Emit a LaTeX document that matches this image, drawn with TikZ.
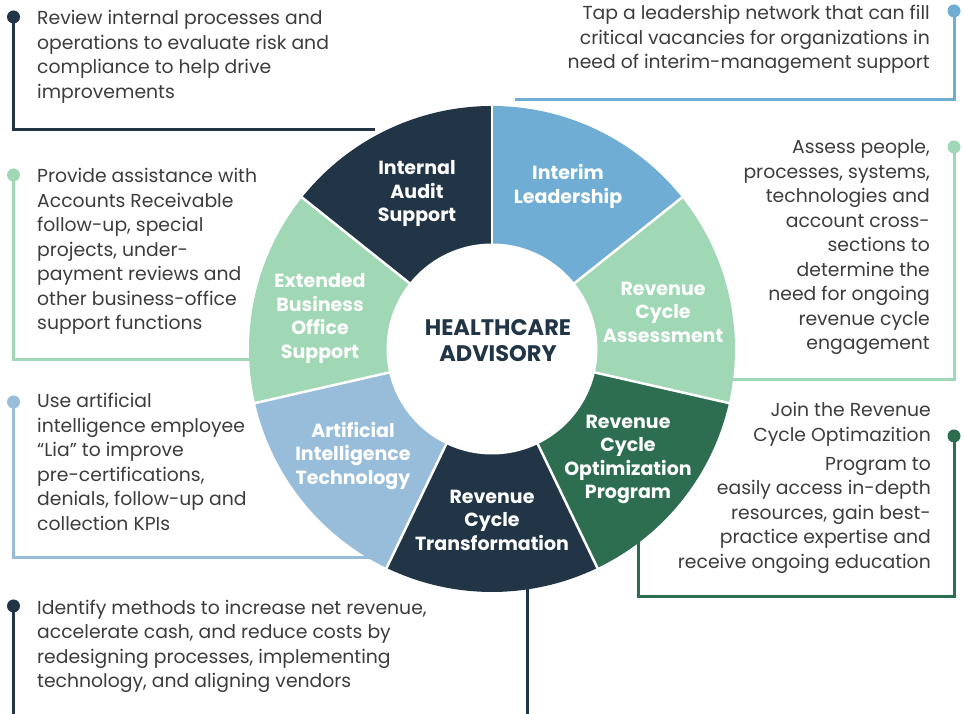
\documentclass[tikz,border=0pt]{standalone}
\usepackage{fontspec}
\setmainfont{Poppins}
\definecolor{navy}{HTML}{213547}
\definecolor{skyblue}{HTML}{6FADD4}
\definecolor{mint}{HTML}{A0D8B5}
\definecolor{forest}{HTML}{2C6E4F}
\definecolor{paleblue}{HTML}{97BDDB}
\definecolor{bodygray}{HTML}{3C3C3C}
\tikzset{
  seglabel/.style={text=white, font=\bfseries\fontsize{19}{23.5}\selectfont, align=center},
  desc/.style={text=bodygray, font=\fontsize{18.8}{24.5}\selectfont, inner sep=0pt},
  leader/.style={line width=3pt},
}
\begin{document}
\begin{tikzpicture}[x=1pt,y=1pt]
    \useasboundingbox (0,0) rectangle (964,714);
    \coordinate (C) at (492,365);

    % leader lines
    \coordinate (auditDot) at (13.5,697);
    \coordinate (auditEnd) at (375,584);
    \coordinate (interimDot) at (954,703);
    \coordinate (interimEnd) at (515,614);
    \coordinate (assessDot) at (954,567);
    \coordinate (assessEnd) at (725,334);
    \coordinate (optDot) at (954,278);
    \coordinate (optLow) at (954,117);
    \coordinate (optEnd) at (638,180);
    \coordinate (transDot) at (13.5,108);
    \coordinate (transFoot) at (13.5,0);
    \coordinate (transTop) at (527,140);
    \coordinate (transEnd) at (527,0);
    \coordinate (aiDot) at (13.5,312);
    \coordinate (aiEnd) at (378,156);
    \coordinate (officeDot) at (13.5,539);
    \coordinate (officeEnd) at (260,354);

    \draw[leader, navy] (auditDot) |- (auditEnd);
    \draw[leader, skyblue] (interimDot) |- (interimEnd);
    \draw[leader, mint] (assessDot) |- (assessEnd);
    \draw[leader, forest] (optDot) -- (optLow) -| (optEnd);
    \draw[leader, navy] (transDot) -- (transFoot);
    \draw[leader, navy] (transTop) -- (transEnd);
    \draw[leader, paleblue] (aiDot) |- (aiEnd);
    \draw[leader, mint] (officeDot) |- (officeEnd);

    \fill[navy] (auditDot) circle (6.5);
    \fill[skyblue] (interimDot) circle (6.5);
    \fill[mint] (assessDot) circle (6.5);
    \fill[forest] (optDot) circle (6.5);
    \fill[navy] (transDot) circle (6.5);
    \fill[paleblue] (aiDot) circle (6.5);
    \fill[mint] (officeDot) circle (6.5);

    % ring
    \fill[skyblue] (C) -- ++(90:243) arc[start angle=90, end angle=38.57, radius=243] -- cycle;
    \fill[mint] (C) -- ++(38.57:243) arc[start angle=38.57, end angle=-12.86, radius=243] -- cycle;
    \fill[forest] (C) -- ++(-12.86:243) arc[start angle=-12.86, end angle=-64.29, radius=243] -- cycle;
    \fill[navy] (C) -- ++(-64.29:243) arc[start angle=-64.29, end angle=-115.71, radius=243] -- cycle;
    \fill[paleblue] (C) -- ++(-115.71:243) arc[start angle=-115.71, end angle=-167.14, radius=243] -- cycle;
    \fill[mint] (C) -- ++(-167.14:243) arc[start angle=-167.14, end angle=-218.57, radius=243] -- cycle;
    \fill[navy] (C) -- ++(141.43:243) arc[start angle=141.43, end angle=90, radius=243] -- cycle;

    \draw[white, line width=2.5pt] (C) -- ++(90:244);
    \draw[white, line width=2.5pt] (C) -- ++(38.57:244);
    \draw[white, line width=2.5pt] (C) -- ++(-12.86:244);
    \draw[white, line width=2.5pt] (C) -- ++(-64.29:244);
    \draw[white, line width=2.5pt] (C) -- ++(-115.71:244);
    \draw[white, line width=2.5pt] (C) -- ++(-167.14:244);
    \draw[white, line width=2.5pt] (C) -- ++(141.43:244);
    \fill[white] (C) circle (105.5);

    % segment labels
    \node[seglabel] (audit) at (417,520) {Internal\\Audit\\Support};
    \node[seglabel] (interim) at (568,527.5) {Interim\\Leadership};
    \node[seglabel] (assess) at (663,402) {Revenue\\Cycle\\Assessment};
    \node[seglabel] (opt) at (628,254.5) {Revenue\\Cycle\\Optimization\\Program};
    \node[seglabel] (trans) at (492,194) {Revenue\\Cycle\\Transformation};
    \node[seglabel] (ai) at (353,258) {Artificial\\Intelligence\\Technology};
    \node[seglabel] (office) at (320,395.5) {Extended\\Business\\Office\\Support};
    \node[text=navy, font=\bfseries\fontsize{22.5}{26}\selectfont, align=center] (hub) at (498,373) {HEALTHCARE\\ADVISORY};

    % descriptions (base = last line)
    \node[desc, anchor=base west, align=left] (auditText) at (37,615.5) {Review internal processes and\\operations to evaluate risk and\\compliance to help drive\\improvements};
    \node[desc, anchor=base east, align=right] (interimText) at (930,645) {Tap a leadership network that can fill\\critical vacancies for organizations in\\need of interim-management support};
    \node[desc, anchor=base east, align=right] (assessText) at (930,364) {Assess people,\\processes, systems,\\technologies and\\account cross-\\sections to\\determine the\\need for ongoing\\revenue cycle\\engagement};
    \node[desc, anchor=base east, align=right] (optText) at (931,145.5) {Join the Revenue\\Cycle Optimazition\\[4.5pt]Program to\\easily access in-depth\\resources, gain best-\\practice expertise and\\receive ongoing education};
    \node[desc, anchor=base west, align=left] (transText) at (37,26.1) {Identify methods to increase net revenue,\\accelerate cash, and reduce costs by\\redesigning processes, implementing\\technology, and aligning vendors};
    \node[desc, anchor=base west, align=left] (aiText) at (37,183.5) {Use artificial\\intelligence employee\\“Lia” to improve\\pre-certifications,\\denials, follow-up and\\collection KPIs};
    \node[desc, anchor=base west, align=left] (officeText) at (37,384) {Provide assistance with\\Accounts Receivable\\follow-up, special\\projects, under-\\payment reviews and\\other business-office\\support functions};
\end{tikzpicture}
\end{document}
